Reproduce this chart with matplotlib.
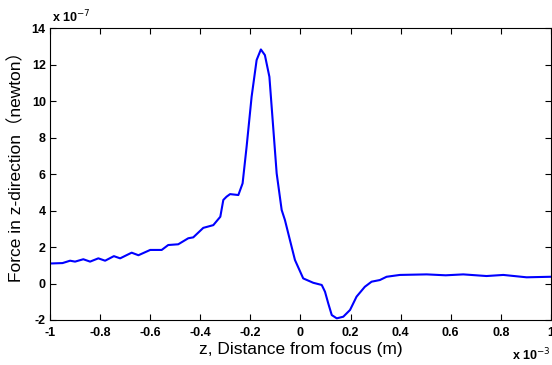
import numpy as np
import matplotlib
matplotlib.use("Agg")
from matplotlib import pyplot as plt

# z in units of 1e-3 m, force in units of 1e-7 N
z = [-1.0, -0.993, -0.95, -0.92, -0.90, -0.867, -0.84, -0.807, -0.78, -0.745, -0.72,
     -0.674, -0.647, -0.60, -0.554, -0.528, -0.488, -0.448, -0.428, -0.388,
     -0.348, -0.32, -0.308, -0.295, -0.281, -0.248, -0.231, -0.215, -0.195,
     -0.175, -0.158, -0.142, -0.124, -0.108, -0.095, -0.075, -0.062, -0.042,
     -0.022, 0.011, 0.051, 0.085, 0.098, 0.111, 0.125, 0.145, 0.171, 0.198,
     0.224, 0.257, 0.284, 0.317, 0.344, 0.397, 0.504, 0.58, 0.65, 0.743,
     0.81, 0.903, 1.0]
force = [1.1, 1.1, 1.12, 1.25, 1.2, 1.33, 1.2, 1.38, 1.25, 1.5, 1.38,
         1.69, 1.55, 1.84, 1.84, 2.11, 2.15, 2.48, 2.53, 3.05,
         3.2, 3.66, 4.58, 4.76, 4.9, 4.85, 5.49, 7.5, 10.24,
         12.25, 12.83, 12.52, 11.33, 8.41, 6.04, 4.03, 3.48, 2.38,
         1.29, 0.28, 0.04, -0.08, -0.45, -1.09, -1.73, -1.91, -1.82, -1.45,
         -0.72, -0.18, 0.10, 0.19, 0.37, 0.47, 0.50, 0.45, 0.50, 0.41,
         0.47, 0.34, 0.37]

xticks = np.round(np.arange(-1, 1.01, 0.2), 1)
yticks = np.arange(-2, 15, 2)
xticklabels = ['-1', '-0.8', '-0.6', '-0.4', '-0.2', '0', '0.2', '0.4', '0.6', '0.8', '1']

plt.rcParams['font.family'] = ['Liberation Sans', 'Noto Sans CJK SC', 'DejaVu Sans']

fig = plt.figure(figsize=(5.52, 3.65), dpi=100)
ax = fig.add_axes([0.0906, 0.1233, 0.9074, 0.7997])
ax.plot(z, force, color=(0, 0, 1), linewidth=1.5)

ax.set_xlim(-1, 1)
ax.set_ylim(-2, 14)
ax.set_xticks(xticks)
ax.set_xticklabels(xticklabels, fontweight='bold', fontsize=9)
ax.set_yticks(yticks)
ax.set_yticklabels([str(v) for v in yticks], fontweight='bold', fontsize=9)
ax.tick_params(direction='in', top=True, right=True, length=4, width=0.8)
ax.tick_params(axis='x', pad=5)
ax.tick_params(axis='y', pad=3)
for s in ax.spines.values():
    s.set_linewidth(0.8)

ax.set_xlabel('z, Distance from focus (m)', fontsize=12.5, labelpad=2)
ax.set_ylabel('Force in z-direction（newton）', fontsize=12.5, labelpad=5)
ax.yaxis.label.set_y(0.541)  # label sits a bit above centre in the original

fig.text(52 / 552, 1 - 17 / 365, r'x 10$^{-7}$', fontsize=9, fontweight='bold',
         ha='left', va='center')
fig.text(551 / 552, 1 - 355 / 365, r'x 10$^{-3}$', fontsize=9, fontweight='bold',
         ha='right', va='center')

fig.savefig('out.png', dpi=100)
